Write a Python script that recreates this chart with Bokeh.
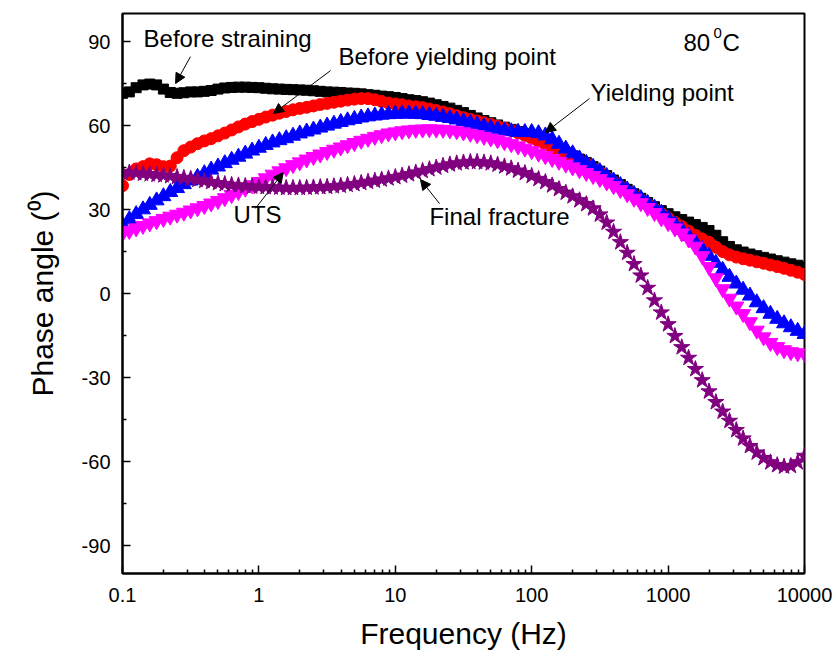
from bokeh.plotting import figure
from bokeh.models import Range1d, FixedTicker, CustomJSTickFormatter, Arrow, NormalHead, Label
from bokeh.embed import file_html
from bokeh.resources import INLINE

# ---- frequency grid (20 points per decade) ----
MANTISSA = [1.0, 1.122, 1.259, 1.413, 1.585, 1.778, 1.995, 2.239, 2.512, 2.818,
            3.162, 3.548, 3.981, 4.467, 5.012, 5.623, 6.310, 7.079, 7.943, 8.913]
DECADES = [-1, 0, 1, 2, 3]
FREQ = [m * 10.0 ** d for d in DECADES for m in MANTISSA] + [10000.0]

# ---- phase angle series (degrees) ----
BEFORE_STRAINING = [
    71.5, 72, 73.5, 74.5, 74.8, 74.5, 73, 71.8, 71.5, 71.7,
    72, 72, 72.2, 72.5, 73, 73.4, 73.6, 73.7, 73.7, 73.6,
    73.5, 73.3, 73.1, 73, 72.9, 72.8, 72.7, 72.6, 72.4, 72.2,
    72, 71.9, 71.8, 71.6, 71.5, 71.3, 71, 70.8, 70.5, 70.3,
    70, 69.6, 69.2, 68.9, 68.5, 68, 67.4, 66.8, 66.2, 65.4,
    64.6, 63.6, 62.7, 61.8, 61, 60.2, 59.4, 58.6, 57.8, 57,
    56, 54.9, 53.8, 52.6, 51.5, 50.3, 49.2, 48, 46.8, 45.3,
    43.7, 42.1, 40.5, 38.9, 37.2, 35.6, 34, 32.5, 31, 29.6,
    28.5, 27.4, 26.4, 25.5, 24.6, 23.6, 22.5, 20.8, 18.5, 16.8,
    15.6, 14.8, 14.1, 13.5, 12.9, 12.3, 11.7, 11.2, 10.6, 10.1,
    9.5]
BEFORE_YIELDING = [
    38.5, 42.5, 44.5, 45.3, 46.3, 46, 45.3, 45.5, 48.5, 51,
    52.3, 53.5, 54.5, 55.3, 56.3, 57.3, 58.4, 59.5, 60.5, 61.4,
    62.2, 63, 63.7, 64.4, 65, 65.6, 66.1, 66.5, 67, 67.5,
    67.9, 68.3, 68.7, 69.1, 69.4, 69.6, 69.6, 69.2, 68.6, 68,
    67.7, 67.4, 67, 66.7, 66.4, 65.9, 65.4, 64.8, 64.2, 63.5,
    62.8, 62.2, 61.6, 61, 60.4, 59.7, 59, 58.2, 57.4, 56.5,
    55.5, 54.4, 53.3, 52.1, 51, 49.8, 48.7, 47.5, 46.3, 44.8,
    43.2, 41.5, 39.8, 38.2, 36.6, 35, 33.4, 31.8, 30.2, 28.6,
    27, 25.4, 23.9, 22.3, 20.8, 19.5, 18.3, 16.5, 15, 13.8,
    13, 12.4, 11.9, 11.3, 10.8, 10.2, 9.6, 9, 8.3, 7.6,
    6.8]
YIELDING = [
    24.5, 26.5, 28.3, 30, 31.6, 33.2, 34.7, 36.2, 37.6, 39,
    40.3, 41.6, 42.9, 44.2, 45.3, 46.5, 47.7, 48.8, 49.9, 51,
    52, 53, 53.9, 54.7, 55.4, 56.3, 57.1, 57.8, 58.5, 59.2,
    59.9, 60.6, 61.2, 61.8, 62.3, 62.8, 63.2, 63.5, 63.8, 64,
    64.1, 64.2, 64.2, 64.1, 64, 63.7, 63.4, 63, 62.6, 62.1,
    61.5, 60.9, 60.3, 59.7, 59.1, 58.6, 58.2, 57.9, 57.7, 57.6,
    57.6, 57.2, 56.4, 55, 53.4, 51.7, 50, 48.2, 46.6, 45.2,
    43.6, 41.9, 40.3, 38.7, 37.1, 35.5, 34, 32.3, 30.6, 28.8,
    26.8, 24.8, 22.7, 20.5, 18.2, 15.8, 13.4, 10.9, 8.4, 5.9,
    3.5, 1.3, -0.8, -3.2, -5.3, -7.3, -9.1, -10.7, -12.1, -13.4,
    -14.5]
UTS = [
    21.5, 22.4, 23.3, 24.2, 25.1, 25.9, 26.7, 27.5, 28.2, 28.9,
    29.7, 30.5, 31.3, 32.2, 33.1, 34.1, 35.2, 36.3, 37.5, 38.7,
    39.9, 41.2, 42.5, 43.7, 44.8, 45.9, 46.9, 47.9, 48.8, 49.7,
    50.6, 51.4, 52.2, 53, 53.8, 54.6, 55.3, 56, 56.6, 57.2,
    57.6, 58, 58.3, 58.5, 58.6, 58.7, 58.6, 58.5, 58.3, 58,
    57.6, 57.1, 56.6, 56, 55.4, 54.8, 54.1, 53.4, 52.6, 51.8,
    50.9, 50, 49.1, 48.1, 47.1, 46.1, 45.1, 44.1, 43.1, 42,
    40.9, 39.7, 38.4, 37, 35.5, 33.9, 32.3, 30.6, 28.8, 26.9,
    25.2, 23.3, 21.5, 19.4, 16.8, 13.4, 9.5, 5.5, 1.6, -1.8,
    -4.6, -7.3, -10.2, -13.2, -15.6, -17.6, -19.1, -20.2, -20.9, -21.3,
    -21.5]
FINAL_FRACTURE = [
    43.2, 43.2, 43, 42.8, 42.6, 42.4, 42.2, 41.9, 41.6, 41.3,
    41, 40.6, 40.2, 39.8, 39.4, 39.1, 38.8, 38.6, 38.4, 38.2,
    38.1, 38, 37.9, 37.8, 37.7, 37.7, 37.7, 37.8, 37.9, 38,
    38.1, 38.3, 38.5, 38.8, 39.1, 39.5, 39.9, 40.3, 40.7, 41.1,
    41.6, 42.1, 42.6, 43.2, 43.8, 44.4, 45, 45.6, 46.1, 46.5,
    46.8, 47, 47, 46.8, 46.5, 46, 45.4, 44.7, 43.9, 43,
    42, 40.9, 39.8, 38.6, 37.3, 36, 34.7, 33.3, 31.9, 30.4,
    28.2, 25.3, 22, 18.3, 14.5, 10.5, 6.4, 2, -2.5, -6.8,
    -11, -15.2, -19.2, -23, -27, -31, -35, -38.8, -42.2, -45.5,
    -48.8, -51.8, -54.5, -56.8, -58.8, -60.3, -61.3, -61.8, -61.6, -60.3,
    -58]

# ---- ticks ----
X_TICKS = [0.1, 1, 10, 100, 1000, 10000]
X_MINOR_MULT = [2, 3, 4, 5, 6, 7, 8, 9]
X_MINOR = [m * 10.0 ** d for d in DECADES for m in X_MINOR_MULT]
Y_TICKS = [-90, -60, -30, 0, 30, 60, 90]
Y_MINOR = [-75, -45, -15, 15, 45, 75]

FONT = "Liberation Sans"

p = figure(width=838, height=654, x_axis_type="log",
           x_range=Range1d(0.1, 10000), y_range=Range1d(-100, 100),
           output_backend="svg", toolbar_location=None,
           min_border_left=122, min_border_right=34,
           min_border_top=13, min_border_bottom=81)
p.background_fill_color = "white"
p.border_fill_color = "white"
p.outline_line_color = "black"
p.outline_line_width = 2
p.xgrid.visible = False
p.ygrid.visible = False

series = [
    (BEFORE_STRAINING, "square", "#000000", 10),
    (BEFORE_YIELDING, "circle", "#FF0000", 12),
    (YIELDING, "triangle", "#0000FF", 15),
    (UTS, "inverted_triangle", "#FF00FF", 15),
    (FINAL_FRACTURE, "star", "#800080", 17),
]
for ys, mk, col, sz in series:
    p.scatter(FREQ, ys, marker=mk, size=sz, fill_color=col, line_color=col, line_width=1)

# axes
for ax in (p.xaxis[0], p.yaxis[0]):
    ax.axis_line_width = 2
    ax.axis_line_color = "black"
    ax.major_tick_in = 8
    ax.major_tick_out = 0
    ax.minor_tick_in = 4
    ax.minor_tick_out = 0
    ax.major_tick_line_width = 1.5
    ax.minor_tick_line_width = 1.5
    ax.major_tick_line_color = "black"
    ax.minor_tick_line_color = "black"
    ax.major_label_text_font = FONT
    ax.major_label_text_font_size = "20px"
    ax.major_label_text_color = "black"
    ax.axis_label_text_font = FONT
    ax.axis_label_text_font_size = "30px"
    ax.axis_label_text_font_style = "normal"
    ax.axis_label_text_color = "black"
    ax.formatter = CustomJSTickFormatter(code="return String(tick);")

p.xaxis.ticker = FixedTicker(ticks=X_TICKS, minor_ticks=X_MINOR)
p.xaxis.axis_label = "Frequency (Hz)"
p.xaxis.major_label_standoff = 14
p.xaxis.axis_label_standoff = 12

p.yaxis.ticker = FixedTicker(ticks=Y_TICKS, minor_ticks=Y_MINOR)
p.yaxis.axis_label = "Phase angle (\u2070)"
p.yaxis.major_label_standoff = 12
p.yaxis.axis_label_standoff = 20

# annotations
def lab(x, y, txt, size="24px", align="left"):
    p.add_layout(Label(x=x, y=y, text=txt, text_font=FONT, text_font_size=size,
                       text_color="black", text_align=align, text_baseline="middle"))

lab(0.1426, 91.0, "Before straining")
lab(3.83, 84.6, "Before yielding point")
lab(270, 71.9, "Yielding point")
lab(0.652, 28.2, "UTS")
lab(17.8, 27.5, "Final fracture")
lab(1297, 89.6, "80")
lab(2154, 92.9, "0", size="15px")
lab(2506, 89.6, "C")

ARROWS = [
    (0.315, 84.6, 0.245, 75.0),
    (3.35, 79.6, 1.28, 64.3),
    (265, 69.6, 126, 57.5),
    (0.944, 30.4, 1.51, 43.2),
    (21.1, 32.1, 15.3, 40.7),
]
for xs, ys_, xe, ye in ARROWS:
    p.add_layout(Arrow(end=NormalHead(size=10, fill_color="black", line_color="black", line_width=1),
                       x_start=xs, y_start=ys_, x_end=xe, y_end=ye,
                       line_color="black", line_width=1))

open("out.html", "w").write(file_html(p, INLINE))
